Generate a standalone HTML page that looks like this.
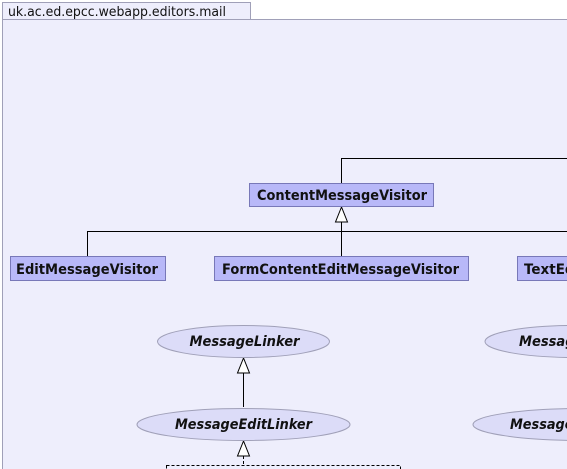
<!DOCTYPE html>
<html><head><style>body{margin:0;background:#fff}</style></head><body>
<svg width="567" height="469" xmlns="http://www.w3.org/2000/svg" style="display:block;font-family:'DejaVu Sans',sans-serif">
<rect x="2.5" y="2.5" width="248" height="17" fill="#eeeefc" stroke="#a0a0b8"/>
<text x="8" y="16" font-size="13" fill="#111" textLength="218" lengthAdjust="spacingAndGlyphs">uk.ac.ed.epcc.webapp.editors.mail</text>
<rect x="2.5" y="19.5" width="570" height="460" fill="#eeeefc" stroke="#a0a0b8"/>
<g fill="none" stroke="#000" stroke-width="1">
<path d="M341.5 183V158.5H567"/>
<path d="M341.5 222V256M87.5 256V231.5H567"/>
<path d="M243.5 373V407"/>
</g>
<path d="M341.5 207L335.5 222H347.5Z" fill="#fff" stroke="#000"/>
<path d="M243.5 358L237.5 373H249.5Z" fill="#fff" stroke="#000"/>
<path d="M243.5 441L237.5 456H249.5Z" fill="#fff" stroke="#000"/>
<path d="M243.5 456V465" stroke="#000" stroke-dasharray="3,2"/>
<rect x="166.5" y="465.5" width="234" height="20" fill="none" stroke="#000" stroke-dasharray="3,2"/>
<g fill="#b8b8f8" stroke="#7878b8">
<rect x="249.5" y="183.5" width="184" height="23"/>
<rect x="10.5" y="256.5" width="155" height="24"/>
<rect x="214.5" y="256.5" width="254" height="24"/>
<rect x="517.5" y="256.5" width="100" height="24"/>
</g>
<g font-size="14" font-weight="bold" fill="#111" lengthAdjust="spacingAndGlyphs">
<text x="257" y="200" textLength="170" lengthAdjust="spacingAndGlyphs">ContentMessageVisitor</text>
<text x="16" y="274" textLength="142" lengthAdjust="spacingAndGlyphs">EditMessageVisitor</text>
<text x="222" y="274" textLength="237" lengthAdjust="spacingAndGlyphs">FormContentEditMessageVisitor</text>
<text x="524" y="274" textLength="178" lengthAdjust="spacingAndGlyphs">TextEditMessageVisitor</text>
</g>
<g fill="#dcdcf8" stroke="#a0a0b8">
<ellipse cx="243.5" cy="341.5" rx="86" ry="16"/>
<ellipse cx="243.5" cy="424.5" rx="106.5" ry="16"/>
<ellipse cx="575" cy="341.5" rx="90" ry="16"/>
<ellipse cx="583" cy="424.5" rx="110" ry="16"/>
</g>
<g font-size="14" font-weight="bold" font-style="italic" fill="#111">
<text x="189.5" y="346" textLength="110" lengthAdjust="spacingAndGlyphs">MessageLinker</text>
<text x="175" y="429" textLength="137" lengthAdjust="spacingAndGlyphs">MessageEditLinker</text>
<text x="519" y="346" textLength="110" lengthAdjust="spacingAndGlyphs">MessageLinker</text>
<text x="510" y="429" textLength="137" lengthAdjust="spacingAndGlyphs">MessageEditLinker</text>
</g>
</svg>
</body></html>
